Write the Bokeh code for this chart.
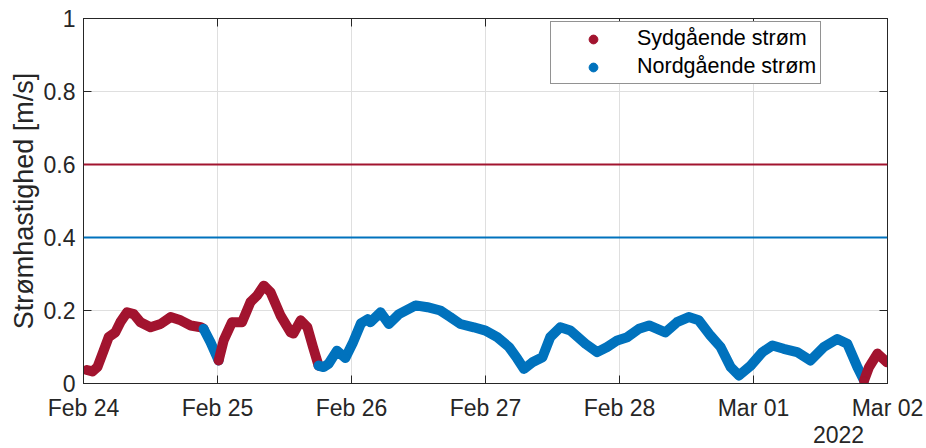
import pandas as pd
from bokeh.plotting import figure
from bokeh.models import (Range1d, FixedTicker, DatetimeTickFormatter, NumeralTickFormatter,
                          LinearAxis, DatetimeAxis, Span, Legend, LegendItem,
                          CustomJSTickFormatter)
from bokeh.embed import file_html
from bokeh.resources import INLINE

# ---------------- data ----------------
START = "2022-02-24"
END = "2022-03-02"
tick_days = ["2022-02-24", "2022-02-25", "2022-02-26", "2022-02-27",
             "2022-02-28", "2022-03-01", "2022-03-02"]
y_ticks = [0, 0.2, 0.4, 0.6, 0.8, 1.0]
year_label = "2022"

# hours after 24 Feb 00:00 and current speed [m/s], split by direction
south1_h = [0.6, 1.6, 2.5, 3.6, 4.5, 5.7, 6.6, 7.8, 9.0, 10.2, 12.0, 13.8, 15.6, 17.4, 19.2, 21.0, 21.5]
south1_v = [0.037, 0.033, 0.045, 0.090, 0.127, 0.140, 0.168, 0.195, 0.190, 0.168, 0.154, 0.163,
            0.182, 0.173, 0.159, 0.154, 0.150]

north1_h = [21.5, 22.75, 24.2]
north1_v = [0.150, 0.113, 0.063]

south2_h = [24.2, 25.1, 26.6, 28.4, 29.9, 31.1, 32.3, 33.5, 35.3, 37.1, 37.6, 38.9, 40.1, 41.1, 42.1]
south2_v = [0.063, 0.118, 0.168, 0.168, 0.223, 0.241, 0.268, 0.250, 0.186, 0.140, 0.137, 0.173,
            0.154, 0.100, 0.049]

north2_h = [42.1, 43.0, 43.9, 45.4, 46.9, 48.2, 49.7, 50.9, 51.4, 53.2, 54.7, 56.5, 59.5, 61.6,
            63.9, 65.7, 67.5, 69.9, 72.0, 74.1, 76.2, 77.7, 78.9, 80.4, 82.2, 83.6, 85.4, 87.2,
            89.9, 92.0, 93.8, 95.6, 97.4, 99.5, 101.3, 104.2, 106.3, 108.4, 110.2, 112.3, 114.1,
            115.9, 117.4, 119.5, 121.6, 123.4, 125.4, 127.8, 130.2, 132.6, 135.0, 136.8, 138.6, 139.8]
north2_v = [0.049, 0.045, 0.054, 0.090, 0.070, 0.110, 0.165, 0.176, 0.168, 0.195, 0.163, 0.190,
            0.214, 0.209, 0.200, 0.182, 0.163, 0.154, 0.145, 0.127, 0.100, 0.068, 0.040, 0.058,
            0.072, 0.127, 0.154, 0.145, 0.109, 0.086, 0.100, 0.118, 0.127, 0.150, 0.159, 0.140,
            0.168, 0.182, 0.173, 0.131, 0.100, 0.045, 0.022, 0.049, 0.086, 0.104, 0.095, 0.086,
            0.063, 0.100, 0.122, 0.109, 0.045, 0.008]

south3_h = [139.8, 140.7, 142.2, 143.9]
south3_v = [0.008, 0.045, 0.082, 0.058]

south_limit = 0.6
north_limit = 0.4

labels = ["Sydgående strøm", "Nordgående strøm"]
y_title = "Strømhastighed [m/s]"

RED = "#A2142F"
BLUE = "#0072BD"
TXT = "#262626"
FONT = "Liberation Sans"


def ms(d):
    return pd.Timestamp(d).timestamp() * 1000.0


def times(hours):
    return [pd.Timestamp(START) + pd.Timedelta(hours=h) for h in hours]


start_ms, end_ms = ms(START), ms(END)
tick_ms = [ms(d) for d in tick_days]

p = figure(width=926, height=448, x_axis_type="datetime",
           x_range=Range1d(start_ms, end_ms), y_range=Range1d(0, 1),
           output_backend="svg", toolbar_location=None,
           min_border_left=83, min_border_right=39, min_border_top=18, min_border_bottom=65)
p.background_fill_color = "white"
p.border_fill_color = "white"
p.outline_line_color = TXT
p.outline_line_width = 1

xticker = FixedTicker(ticks=tick_ms)
yticker = FixedTicker(ticks=y_ticks)
fmt = DatetimeTickFormatter(days="%b %d", months="%b %d", hours="%b %d", minutes="%b %d")

p.xaxis.ticker = xticker
p.xaxis.formatter = fmt
p.yaxis.ticker = yticker
p.yaxis.formatter = NumeralTickFormatter(format="0.[0]")

for ax in [p.xaxis[0], p.yaxis[0]]:
    ax.major_tick_in = 8
    ax.major_tick_out = 0
    ax.minor_tick_in = 0
    ax.minor_tick_out = 0
    ax.axis_line_color = TXT
    ax.major_tick_line_color = TXT
    ax.major_label_text_font = FONT
    ax.major_label_text_font_size = "23px"
    ax.major_label_text_color = TXT
p.xaxis.major_label_standoff = 11
p.yaxis.major_label_standoff = 8
p.yaxis.axis_label = y_title
p.yaxis.axis_label_text_font = FONT
p.yaxis.axis_label_text_font_size = "27px"
p.yaxis.axis_label_text_font_style = "normal"
p.yaxis.axis_label_text_color = TXT
p.yaxis.axis_label_standoff = 2

# year shown under the last date tick (secondary date row)
year_ms = end_ms - 8.78 * 3600 * 1000
year_axis = DatetimeAxis(ticker=FixedTicker(ticks=[year_ms]),
                         formatter=CustomJSTickFormatter(code="return yr", args=dict(yr=year_label)),
                         axis_line_color=None, major_tick_line_color=None,
                         major_tick_in=0, major_tick_out=0, minor_tick_in=0, minor_tick_out=0,
                         major_label_standoff=2, major_label_text_font=FONT,
                         major_label_text_font_size="23px", major_label_text_color=TXT)
p.add_layout(year_axis, "below")

# box axes (ticks only) on the right and top
right = LinearAxis(ticker=yticker, major_label_text_color=None, major_label_text_font_size="10px",
                   major_label_standoff=0, major_tick_in=8, major_tick_out=0,
                   minor_tick_in=0, minor_tick_out=0, axis_line_color=TXT,
                   major_tick_line_color=TXT)
top = DatetimeAxis(ticker=xticker, formatter=fmt, major_label_text_color=None,
                   major_label_text_font_size="10px", major_label_standoff=0,
                   major_tick_in=8, major_tick_out=0, minor_tick_in=0, minor_tick_out=0,
                   axis_line_color=TXT, major_tick_line_color=TXT)
p.add_layout(right, "right")
p.add_layout(top, "above")

p.xgrid.ticker = xticker
p.ygrid.ticker = yticker
for g in [p.xgrid[0], p.ygrid[0]]:
    g.grid_line_color = "#dfdfdf"
    g.grid_line_width = 1

# limit lines
p.add_layout(Span(location=south_limit, dimension="width", line_color=RED, line_width=2))
p.add_layout(Span(location=north_limit, dimension="width", line_color=BLUE, line_width=2))

# current speed series: thick dotted trace
segments = [(south1_h, south1_v, RED), (north1_h, north1_v, BLUE),
            (south2_h, south2_v, RED), (north2_h, north2_v, BLUE),
            (south3_h, south3_v, RED)]
dot_renderers = []
for hs, vs, col in segments:
    p.line(times(hs), vs, line_color=col, line_width=10, line_cap="round", line_join="round")
    dot_renderers.append(p.scatter(times(hs), vs, size=8, fill_color=col, line_color=col))

legend = Legend(items=[LegendItem(label=labels[0], renderers=[dot_renderers[0]]),
                       LegendItem(label=labels[1], renderers=[dot_renderers[1]])],
                location=(467, 299), margin=0, padding=4, spacing=3,
                glyph_width=76, glyph_height=22, label_height=22, label_standoff=6,
                label_text_font=FONT, label_text_font_size="21.5px", label_text_color="#000000",
                border_line_color=TXT, border_line_width=1,
                background_fill_color="white", background_fill_alpha=1.0)
p.add_layout(legend)

open("out.html", "w").write(file_html(p, INLINE))
